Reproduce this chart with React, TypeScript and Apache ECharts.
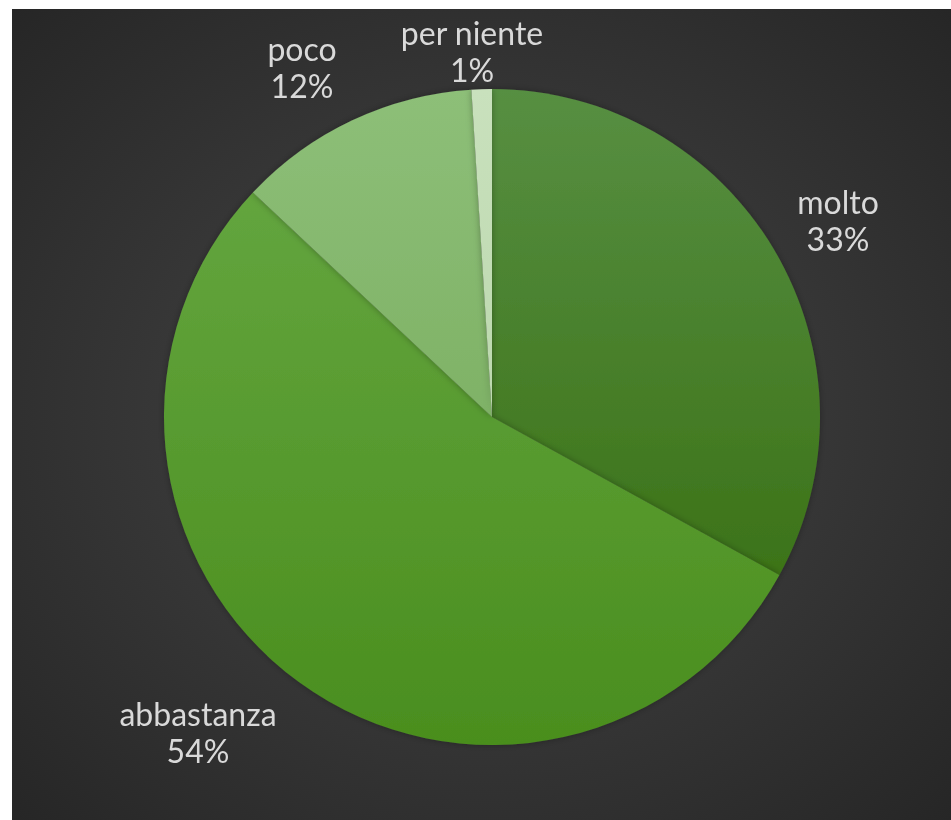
import React, { useEffect, useRef } from "react";
import * as echarts from "echarts";

const categories = ["molto", "abbastanza", "poco", "per niente"];
const values = [33, 54, 12, 1];
const percentLabels = ["33%", "54%", "12%", "1%"];

const sliceTop = ["#578f42", "#63a53e", "#8dbf78", "#c9e1bd"];
const sliceBottom = ["#3c7318", "#4a8e1e", "#7fb266", "#bcd8ae"];
// label block centres in chart pixels
const labelCentres: [number, number][] = [
  [826, 211],
  [186, 723],
  [290, 58],
  [460, 42],
];

export default function App() {
  const ref = useRef<HTMLDivElement>(null);
  useEffect(() => {
    if (!ref.current) return;
    const chart = echarts.init(ref.current, undefined, { renderer: "svg" });
    const data = categories.map((name, i) => ({
      name,
      value: values[i],
      itemStyle: {
        color: new echarts.graphic.LinearGradient(0, 0, 0, 1, [
          { offset: 0, color: sliceTop[i] },
          { offset: 1, color: sliceBottom[i] },
        ], false),
      },
      label: { formatter: `${name}\n${percentLabels[i]}` },
    }));
    chart.setOption({
      animation: false,
      backgroundColor: {
        type: "radial",
        x: 0.5,
        y: 0.5,
        r: 0.75,
        colorStops: [
          { offset: 0, color: "#474747" },
          { offset: 1, color: "#242424" },
        ],
      },
      series: [
        {
          type: "pie",
          center: [480, 408],
          radius: 328,
          startAngle: 90,
          clockwise: true,
          data,
          itemStyle: {
            shadowBlur: 7,
            shadowColor: "rgba(0,0,0,0.3)",
            borderWidth: 0,
          },
          label: {
            show: true,
            position: "outside",
            color: "#d9d9d9",
            fontSize: 32,
            lineHeight: 37,
            fontFamily: "Lato, 'Noto Sans', sans-serif",
            align: "center",
          },
          labelLine: { show: false },
          labelLayout: (params: any) => {
            const c = labelCentres[params.dataIndex];
            return { x: c[0], y: c[1], align: "center", verticalAlign: "middle" };
          },
          emphasis: { disabled: true },
        },
      ],
    });
    return () => chart.dispose();
  }, []);
  return (
    <div
      ref={ref}
      style={{ position: "fixed", left: 12, top: 9, width: 939, height: 811 }}
    />
  );
}
